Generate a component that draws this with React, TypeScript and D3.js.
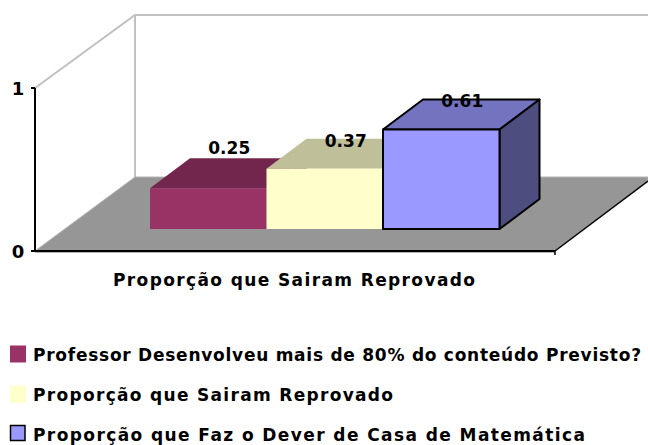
import React from 'react';
import * as d3 from 'd3';

const seriesNames = [
  'Professor Desenvolveu mais de 80% do conteúdo Previsto?',
  'Proporção que Sairam Reprovado',
  'Proporção que Faz o Dever de Casa de Matemática',
];
const seriesValues = [0.25, 0.37, 0.61];
const seriesLabels = ['0.25', '0.37', '0.61'];
const frontColors = ['#993366', '#ffffcc', '#9999ff'];
const topColors = ['#73264d', '#bfbf99', '#7373bf'];
const sideColors = ['#5c1f3d', '#999973', '#4d4d80'];
const outlined = [false, false, true];
const yTicks = [0, 1];
const categoryLabel = 'Proporção que Sairam Reprovado';

const font = '"DejaVu Sans", Lato, sans-serif';

// projection of the depth axis
const depthX = 40;
const depthY = -30;

// the labels sit a bit differently against each bar top
const labelNudge = [-4, 8, 7];
// the original font is wider than anything installed, so stretch to its widths
const legendWidths = [608, 360, 552];

const poly = (pts: number[][]) => d3.line()(pts as [number, number][]) + 'Z';

const App = () => {
  const y = d3.scaleLinear().domain([0, 1]).range([0, 163]);
  const x = d3.scaleBand<number>().domain(d3.range(seriesValues.length)).range([150, 499.5]);
  const rows = d3.scalePoint<number>().domain(d3.range(seriesNames.length)).range([354, 434]);
  const floorFront = 251;
  const barBase = 229;

  return (
    <svg
      width={648}
      height={445}
      style={{ position: 'absolute', left: 0, top: 0, background: '#fff' }}
    >
      {/* walls */}
      <path d="M35,88L135,15L648,15" fill="none" stroke="#c0c0c0" strokeWidth={2} />
      <line x1={135} x2={135} y1={15} y2={177} stroke="#c0c0c0" strokeWidth={2} />

      {/* floor */}
      <path d="M35,251L135,177L648,177L648,181L555,251Z" fill="#969696" stroke="#b4b4b4" strokeWidth={1} />
      <line x1={35} x2={555} y1={251} y2={251} stroke="#000" strokeWidth={2} />
      <line x1={555} x2={648} y1={251} y2={181} stroke="#000" strokeWidth={1.5} />
      <line x1={35} x2={555} y1={252.5} y2={252.5} stroke="#b4b4b4" strokeWidth={1} />

      {/* axis */}
      <line x1={35} x2={35} y1={88} y2={252} stroke="#000" strokeWidth={2} />
      {yTicks.map((t) => (
        <g key={t}>
          <line x1={31} x2={35} y1={floorFront - y(t)} y2={floorFront - y(t)} stroke="#000" strokeWidth={2} />
          <text
            x={18}
            y={floorFront - y(t) + 7}
            textAnchor="middle"
            fontFamily={font}
            fontWeight={700}
            fontSize={18}
            fill="#000"
          >
            {t}
          </text>
        </g>
      ))}
      <line x1={555} x2={555} y1={251} y2={255} stroke="#000" strokeWidth={1.5} />

      {/* bars */}
      {seriesValues.map((v, i) => {
        const x0 = x(i)!;
        const x1 = x0 + x.bandwidth();
        const top = barBase - y(v);
        const stroke = outlined[i] ? '#000' : 'none';
        return (
          <g key={i} stroke={stroke} strokeWidth={2} strokeLinejoin="round">
            <path
              d={poly([[x0, top], [x0 + depthX, top + depthY], [x1 + depthX, top + depthY], [x1, top]])}
              fill={topColors[i]}
            />
            <path
              d={poly([[x1, top], [x1 + depthX, top + depthY], [x1 + depthX, barBase + depthY], [x1, barBase]])}
              fill={sideColors[i]}
            />
            <rect x={x0} y={top} width={x.bandwidth()} height={barBase - top} fill={frontColors[i]} />
          </g>
        );
      })}

      {/* value labels */}
      {seriesValues.map((v, i) => (
        <text
          key={i}
          x={x(i)! + x.bandwidth() / 2 + 21}
          y={barBase - y(v) + depthY + labelNudge[i]}
          textAnchor="middle"
          fontFamily={font}
          fontWeight={700}
          fontSize={17}
          fill="#000"
        >
          {seriesLabels[i]}
        </text>
      ))}

      {/* category label */}
      <text
        x={113}
        y={286}
        fontFamily={font}
        fontWeight={700}
        fontSize={17}
        textLength={362}
        lengthAdjust="spacing"
        fill="#000"
      >
        {categoryLabel}
      </text>

      {/* legend */}
      {seriesNames.map((name, i) => (
        <g key={i}>
          <rect
            x={outlined[i] ? 10.5 : 10}
            y={rows(i)! - 8.5}
            width={outlined[i] ? 14.5 : 16}
            height={outlined[i] ? 15 : 17}
            fill={frontColors[i]}
            stroke={outlined[i] ? '#000' : 'none'}
            strokeWidth={1.5}
          />
          <text
            x={33}
            y={rows(i)! + 7}
            fontFamily={font}
            fontWeight={700}
            fontSize={17}
            textLength={legendWidths[i]}
            lengthAdjust="spacing"
            fill="#000"
          >
            {name}
          </text>
        </g>
      ))}
    </svg>
  );
};

export default App;
